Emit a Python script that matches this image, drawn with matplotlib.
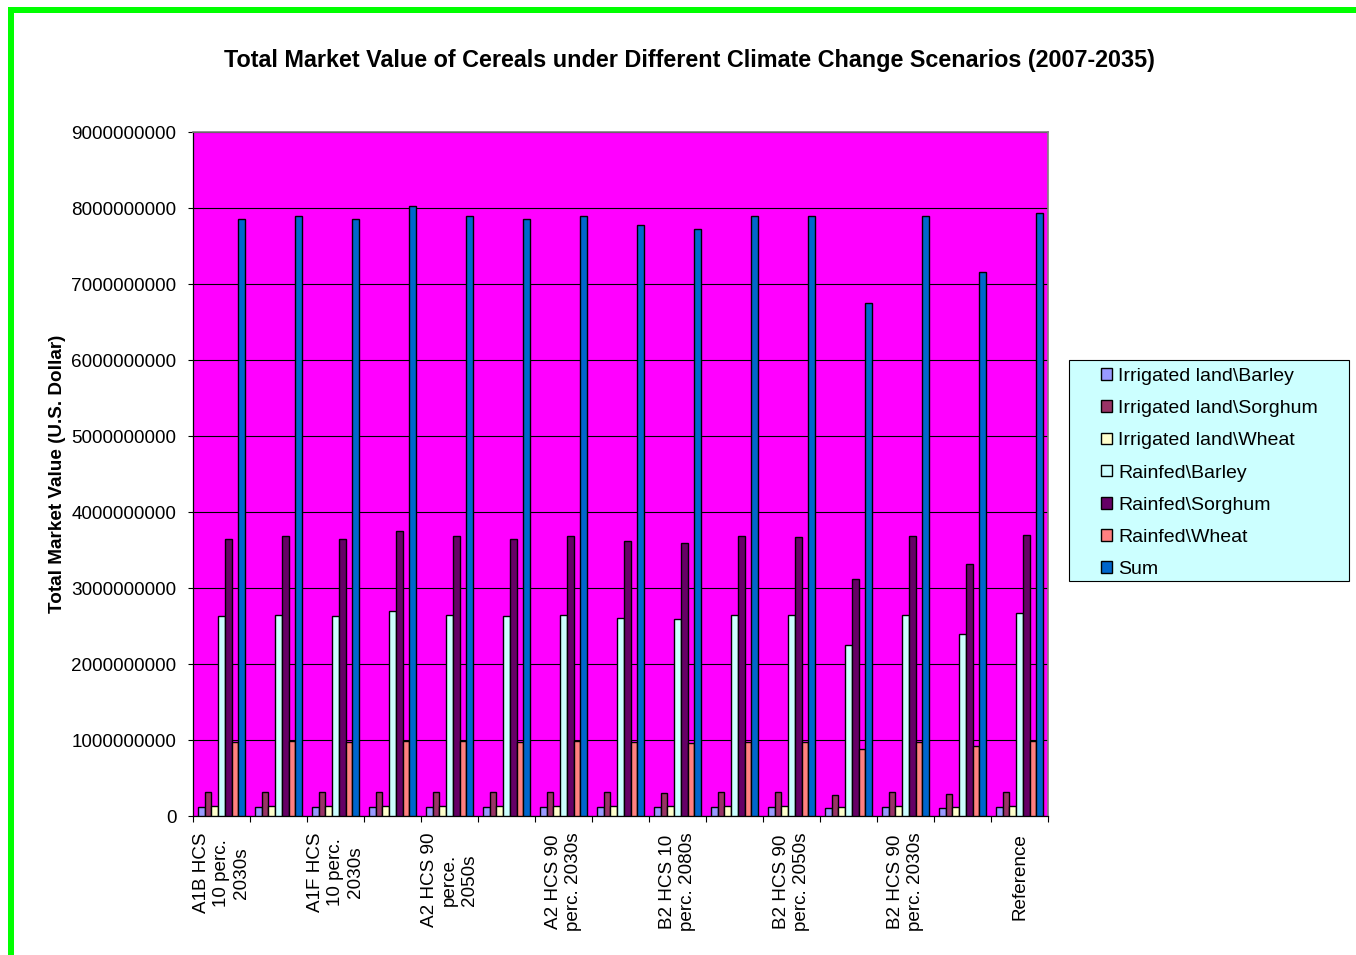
import matplotlib.pyplot as plt
import numpy as np
from matplotlib.patches import Rectangle

plt.rcParams["font.family"] = ["Liberation Sans", "DejaVu Sans"]

# Scenario tick labels (shown on every second group)
tick_labels = [
    "A1B HCS\n10 perc.\n2030s",
    "A1F HCS\n10 perc.\n2030s",
    "A2 HCS 90\nperce.\n2050s",
    "A2 HCS 90\nperc. 2030s",
    "B2 HCS 10\nperc. 2080s",
    "B2 HCS 90\nperc. 2050s",
    "B2 HCS 90\nperc. 2030s",
    "Reference",
]

series_names = [
    "Irrigated land\\Barley",
    "Irrigated land\\Sorghum",
    "Irrigated land\\Wheat",
    "Rainfed\\Barley",
    "Rainfed\\Sorghum",
    "Rainfed\\Wheat",
    "Sum",
]
series_colors = ["#9999FF", "#993366", "#FFFFCC", "#CCFFFF", "#660066", "#FF8080", "#0066CC"]

# market values in billions of US dollars, 15 scenarios
irr_barley = [0.12, 0.12, 0.12, 0.12, 0.12, 0.12, 0.12, 0.12, 0.12, 0.12, 0.12, 0.10, 0.12, 0.11, 0.12]
irr_sorghum = [0.317, 0.317, 0.317, 0.32, 0.317, 0.317, 0.317, 0.31, 0.306, 0.317, 0.317, 0.27, 0.317, 0.295, 0.317]
irr_wheat = [0.13, 0.13, 0.13, 0.13, 0.13, 0.13, 0.13, 0.13, 0.13, 0.13, 0.13, 0.12, 0.13, 0.125, 0.13]
rain_barley = [2.63, 2.65, 2.63, 2.70, 2.65, 2.63, 2.65, 2.61, 2.59, 2.65, 2.65, 2.25, 2.65, 2.40, 2.67]
rain_sorghum = [3.65, 3.68, 3.65, 3.75, 3.68, 3.65, 3.68, 3.62, 3.59, 3.68, 3.67, 3.12, 3.68, 3.32, 3.70]
rain_wheat = [0.97, 0.99, 0.97, 0.99, 0.99, 0.97, 0.99, 0.97, 0.96, 0.98, 0.98, 0.88, 0.98, 0.92, 0.99]
total = [7.85, 7.90, 7.85, 8.03, 7.90, 7.85, 7.90, 7.77, 7.72, 7.89, 7.89, 6.75, 7.89, 7.16, 7.94]

series = [irr_barley, irr_sorghum, irr_wheat, rain_barley, rain_sorghum, rain_wheat, total]

W, H = 1356, 955
FS = 13.6
fig = plt.figure(figsize=(W / 100, H / 100), dpi=100)
fig.patch.set_facecolor("white")

# green frame on the top and left edges
fig.patches.append(Rectangle((8 / W, 1 - 13 / H), 1, 6 / H, transform=fig.transFigure,
                             facecolor="#00FF00", edgecolor="none"))
fig.patches.append(Rectangle((8 / W, 0), 6 / W, 1 - 7 / H, transform=fig.transFigure,
                             facecolor="#00FF00", edgecolor="none"))

ax = fig.add_axes([193 / W, 1 - 816 / H, (1048 - 193) / W, (816 - 132) / H])
ax.set_facecolor("#FF00FF")

n = len(total)
x = np.arange(n)
bw = 1 / 8.5
handles = []
for i, (vals, color, name) in enumerate(zip(series, series_colors, series_names)):
    offs = (i - 3) * bw
    b = ax.bar(x + offs, np.array(vals) * 1e9, width=bw, color=color, edgecolor="black",
               linewidth=1.0, label=name, zorder=3)
    handles.append(b)

ax.set_xlim(-0.5, n - 0.5)
ax.set_ylim(0, 9e9)
yt = np.arange(0, 9.01e9, 1e9)
ax.set_yticks(yt)
ax.set_yticklabels([f"{int(v)}" for v in yt], fontsize=FS)
ax.yaxis.grid(True, color="black", linewidth=0.8, zorder=1)
ax.set_axisbelow(True)

ax.set_xticks(x[::2])
ax.set_xticklabels(tick_labels, rotation=90, ha="center", va="top", multialignment="center",
                   fontsize=FS, linespacing=1.25)
ax.set_xticks(np.arange(-0.5, n, 1), minor=True)
ax.tick_params(axis="x", which="major", length=0, pad=12)
ax.tick_params(axis="x", which="minor", length=4.5, width=0.8, direction="out")
ax.tick_params(axis="y", length=3.8, width=0.8, direction="out", pad=8)

for side in ("left", "bottom"):
    ax.spines[side].set_color("black")
    ax.spines[side].set_linewidth(0.9)
for side in ("top", "right"):
    ax.spines[side].set_color("#808080")
    ax.spines[side].set_linewidth(1.2)

ax.set_ylabel("Total Market Value (U.S. Dollar)", fontsize=FS, fontweight="bold", labelpad=4)

fig.text(689 / W, 1 - 60 / H,
         "Total Market Value of Cereals under Different Climate Change Scenarios (2007-2035)",
         ha="center", va="center", fontsize=16.8, fontweight="bold")

# legend box
fig.patches.append(Rectangle((1069 / W, 1 - 581 / H), (1349 - 1069) / W, (581 - 360) / H,
                             transform=fig.transFigure, facecolor="#CCFFFF",
                             edgecolor="black", linewidth=0.8, zorder=0))
leg = fig.legend(handles=handles, loc="upper left", bbox_to_anchor=(1101 / W, 1 - 368 / H),
                 frameon=False, fontsize=14, handlelength=0.55, handleheight=0.55,
                 handletextpad=0.35, labelspacing=0.78, borderpad=0, borderaxespad=0)

fig.savefig("out.png", dpi=100, facecolor="white")
